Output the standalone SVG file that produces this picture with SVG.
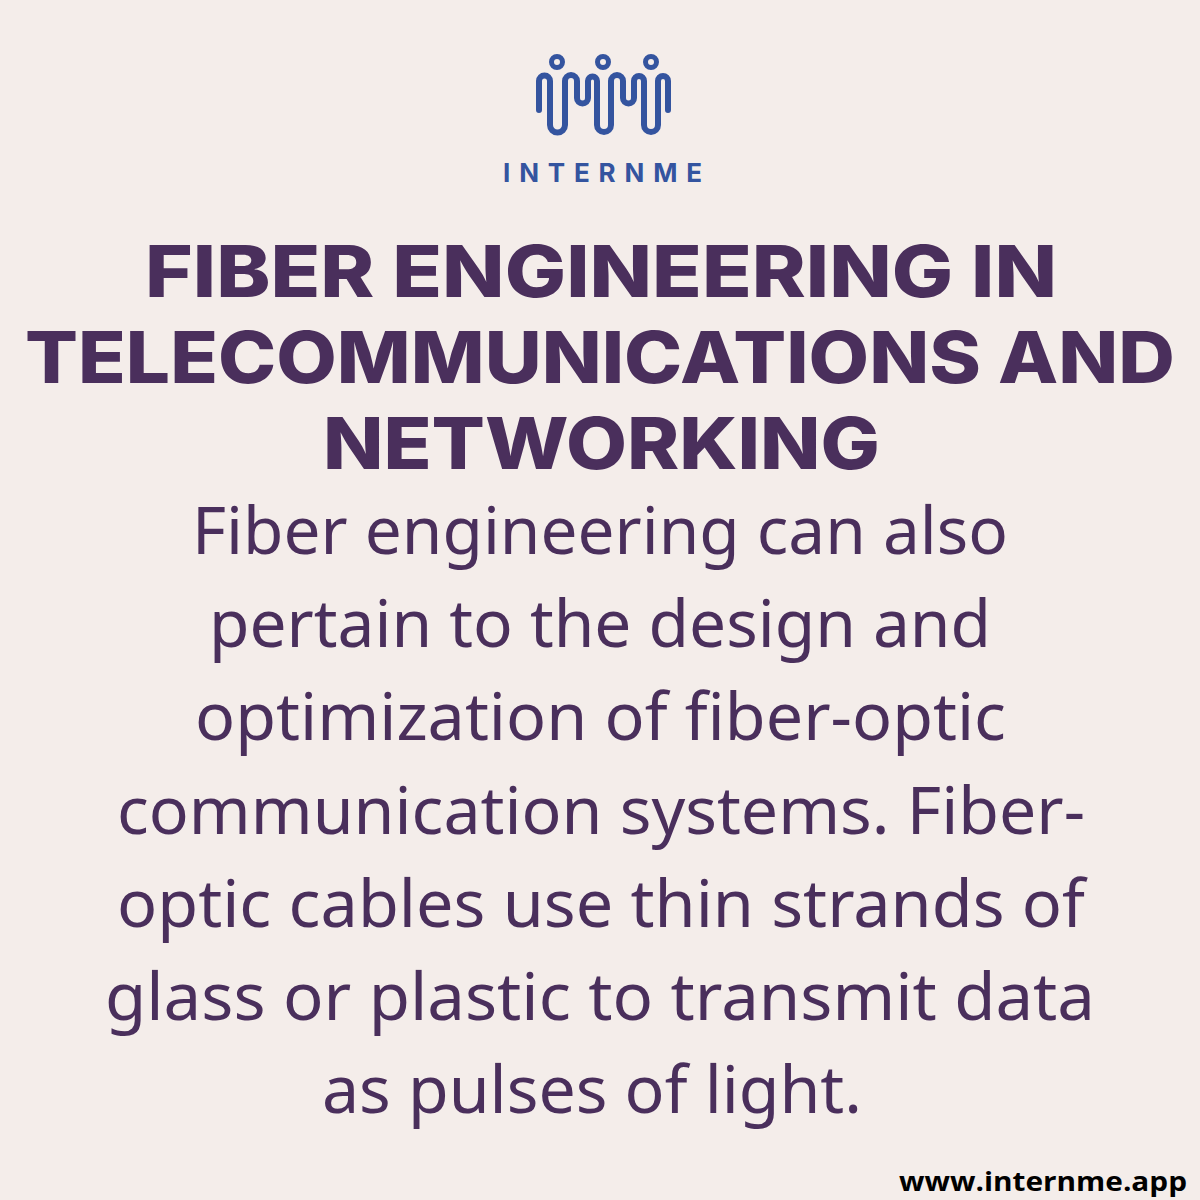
<svg xmlns="http://www.w3.org/2000/svg" width="1200" height="1200" viewBox="0 0 1200 1200">
<style>
.h{font-family:"Inter","Liberation Sans",sans-serif;font-weight:800;font-size:71px;fill:#4a2f5c}
.b{font-family:"Noto Sans","Liberation Sans",sans-serif;font-size:65px;fill:#4a2f5c}
.l{fill:none;stroke:#34549f;stroke-width:6;stroke-linecap:round;stroke-linejoin:round}
.c{stroke-width:5}
</style>
<rect width="1200" height="1200" fill="#f4edea"/>
<g id="logo">
<circle class="l c" cx="557" cy="62" r="5.500"/><circle class="l c" cx="603" cy="62" r="5.500"/><circle class="l c" cx="651" cy="62" r="5.500"/>
<path class="l" d="M539 110V81a5.500 5.500 0 0 1 11 0V125a7.500 7.500 0 0 0 15 0V81a6 6 0 0 1 12 0V98a5.500 5.500 0 0 0 11 0V81a4.500 4.500 0 0 1 9 0V125a7 7 0 0 0 14 0V81a6 6 0 0 1 12 0V98a5.500 5.500 0 0 0 11 0V81a5 5 0 0 1 10 0V125a7 7 0 0 0 14 0V81a5 5 0 0 1 10 0V110"/>
<text x="503" y="182" font-family="Inter,'Liberation Sans',sans-serif" font-weight="700" font-size="26" textLength="199" fill="#34549f">INTERNME</text>
</g>
<text class="h" x="145" y="297" textLength="912" lengthAdjust="spacingAndGlyphs">FIBER ENGINEERING IN</text>
<text class="h" x="25" y="383" textLength="1150" lengthAdjust="spacingAndGlyphs">TELECOMMUNICATIONS AND</text>
<text class="h" x="323" y="469" textLength="557" lengthAdjust="spacingAndGlyphs">NETWORKING</text>
<text class="b" x="192" y="554" textLength="816" lengthAdjust="spacingAndGlyphs">Fiber engineering can also</text>
<text class="b" x="209" y="647" textLength="782" lengthAdjust="spacingAndGlyphs">pertain to the design and</text>
<text class="b" x="195" y="740" textLength="811" lengthAdjust="spacingAndGlyphs">optimization of fiber-optic</text>
<text class="b" x="117" y="834" textLength="968" lengthAdjust="spacingAndGlyphs">communication systems. Fiber-</text>
<text class="b" x="117" y="927" textLength="968" lengthAdjust="spacingAndGlyphs">optic cables use thin strands of</text>
<text class="b" x="105" y="1020" textLength="990" lengthAdjust="spacingAndGlyphs">glass or plastic to transmit data</text>
<text class="b" x="322" y="1113" textLength="540" lengthAdjust="spacingAndGlyphs">as pulses of light.</text>
<text x="899" y="1191" font-family="'Open Sans','Liberation Sans',sans-serif" font-weight="700" font-size="27" textLength="288" lengthAdjust="spacingAndGlyphs" fill="#000">www.internme.app</text>
</svg>
